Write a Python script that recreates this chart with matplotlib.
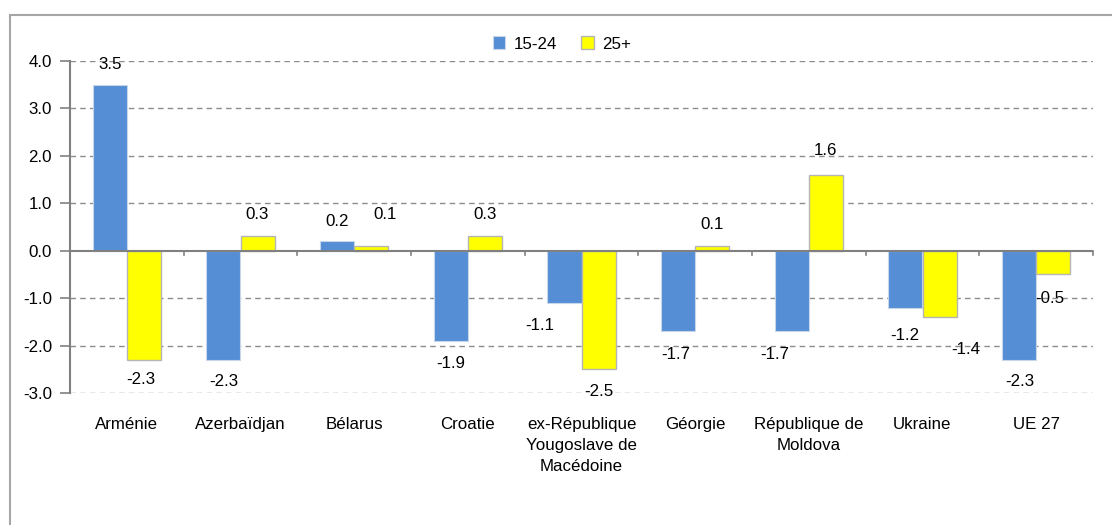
import matplotlib
matplotlib.use("Agg")
import matplotlib.pyplot as plt
from matplotlib.patches import Rectangle
from matplotlib.transforms import blended_transform_factory, offset_copy
import numpy as np

plt.rcParams['font.family'] = ['Liberation Sans', 'DejaVu Sans']

categories = ["Arménie", "Azerbaïdjan", "Bélarus", "Croatie",
              "ex-République\nYougoslave de\nMacédoine", "Géorgie",
              "République de\nMoldova", "Ukraine", "UE 27"]
series_names = ["15-24", "25+"]
vals_1524 = [3.5, -2.3, 0.2, -1.9, -1.1, -1.7, -1.7, -1.2, -2.3]
vals_25p = [-2.3, 0.3, 0.1, 0.3, -2.5, 0.1, 1.6, -1.4, -0.5]
yticks = [-3.0, -2.0, -1.0, 0.0, 1.0, 2.0, 3.0, 4.0]

# label offsets in pixels (dx, dy) relative to bar end
off_1524 = [(0, 20), (0, -22), (0, 20), (0, -23), (-25, -23), (-2, -23), (-17, -23), (-1, -28), (1, -22)]
off_25p = [(-3, -20), (0, 22), (14, 31), (0, 22), (0, -22), (0, 21), (0, 24), (26, -32), (-3, -24)]

FS = 12.2
W, H = 1112, 525
fig = plt.figure(figsize=(W / 100, H / 100), dpi=100)
fig.patches.append(Rectangle((9.5 / W, -0.1), 1.2, 1 - 15 / H + 0.1, transform=fig.transFigure,
                             fill=False, edgecolor='#a6a6a6', linewidth=1.5, zorder=0))

ax = fig.add_axes([70 / W, 1 - 393 / H, (1093 - 70) / W, (393 - 61) / H])
x = np.arange(len(categories))
bw = 0.3
blue = '#558ED5'
yellow = '#FFFF00'
b1 = ax.bar(x - bw / 2, vals_1524, bw, color=blue, edgecolor='#c8d6ea', linewidth=0.8,
            label=series_names[0], zorder=3)
b2 = ax.bar(x + bw / 2, vals_25p, bw, color=yellow, edgecolor='#b5b5b5', linewidth=1.0,
            label=series_names[1], zorder=3)

ax.set_xlim(-0.5, len(categories) - 0.5)
ax.set_ylim(-3, 4)
ax.set_yticks(yticks)
ax.set_yticklabels([f"{v:.1f}" for v in yticks], fontsize=FS)
for v in yticks:
    if v != 0:
        ax.axhline(v, color='#8c8c8c', linestyle=(0, (4, 3)), linewidth=1.0, zorder=1)
ax.axhline(0, color='#808080', linewidth=1.5, zorder=4)

for s in ['top', 'right', 'bottom']:
    ax.spines[s].set_visible(False)
ax.spines['left'].set_color('#808080')
ax.spines['left'].set_linewidth(1.5)
ax.tick_params(axis='y', direction='out', length=7, color='#808080', width=1.2, pad=6)
ax.set_xticks([])

# category boundary ticks on zero line
for b in np.arange(0.5, len(categories) - 0.4, 1.0):
    ax.plot([b, b], [0, -0.1], color='#808080', linewidth=1.2, zorder=4, clip_on=False)

trans = blended_transform_factory(ax.transData, ax.transAxes)
for i, c in enumerate(categories):
    ax.text(x[i], 0, c, transform=offset_copy(trans, fig=fig, x=0, y=-24, units='dots'),
            ha='center', va='top', fontsize=FS, linespacing=1.52)

def label(xpos, val, off):
    t = offset_copy(ax.transData, fig=fig, x=off[0], y=off[1], units='dots')
    ax.text(xpos, val, f"{val:.1f}", transform=t, ha='center', va='center', fontsize=FS, zorder=5)

for i in range(len(categories)):
    label(x[i] - bw / 2, vals_1524[i], off_1524[i])
    label(x[i] + bw / 2, vals_25p[i], off_25p[i])

leg = fig.legend(handles=[b1, b2], loc='center', bbox_to_anchor=(562 / W, 1 - 44 / H), ncol=2,
                 frameon=False, fontsize=FS, handlelength=0.75, handleheight=0.75,
                 handletextpad=0.5, columnspacing=1.4)

fig.savefig("out.png", dpi=100)
